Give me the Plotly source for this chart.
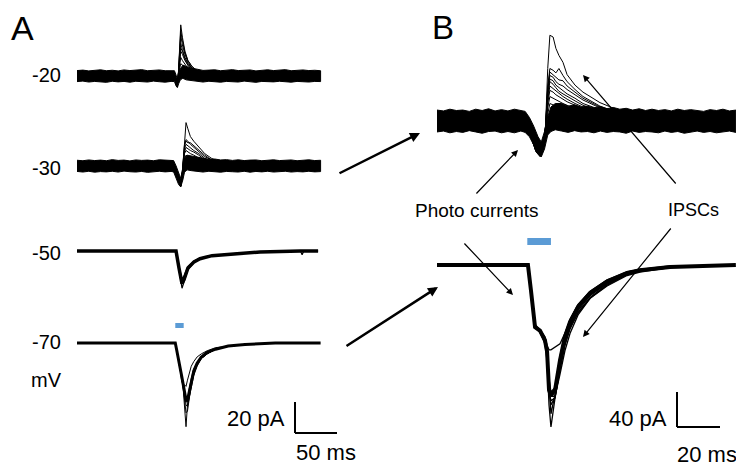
import plotly.graph_objects as go

W, H = 736, 464

# ---------------- Panel A data (time in ms, current in pA) ----------------
# -20 mV : noise band (upper / lower edge) + individual sweeps
A20_BAND_T = [0, 7, 14, 21, 28, 35, 42, 49, 56, 63, 70, 77, 84, 91, 98, 105, 112,
              116, 118, 119.5, 121, 123, 126, 130, 136,
              143, 150, 157, 164, 171, 178, 185, 192, 199, 206, 213, 220, 227, 234, 241, 248, 255, 262, 269, 276, 283, 290]
A20_BAND_UP = [3.5, 3.8, 3.3, 3.6, 4.0, 3.4, 3.7, 3.3, 3.9, 3.5, 3.6, 4.1, 3.4, 3.6, 3.9, 3.4, 3.7,
               3.4, 0.5, -2.5, 1.0, 4.5, 7.0, 6.0, 5.0,
               4.4, 3.6, 3.8, 4.0, 3.4, 3.7, 4.1, 3.5, 3.7, 3.9, 3.3, 3.6, 4.0, 3.5, 3.8, 4.1, 3.4, 3.6, 3.9, 3.5, 3.7, 3.4]
A20_BAND_LO = [-3.6, -3.3, -3.9, -3.5, -3.7, -4.1, -3.4, -3.8, -3.5, -4.0, -3.4, -3.7, -3.9, -3.3, -3.7, -4.0, -3.5,
               -3.6, -6.5, -7.5, -5.0, -2.5, -1.5, -2.5, -3.0,
               -3.5, -3.9, -3.4, -3.7, -4.0, -3.5, -3.6, -3.9, -3.3, -3.7, -4.1, -3.5, -3.6, -3.8, -3.4, -3.7, -4.0, -3.5, -3.7, -3.9, -3.5, -3.6]
A20_SWEEP_T = [116, 118, 119, 120.5, 122, 123.5, 125.5, 128.5, 132, 137, 144, 153, 168]
A20_SWEEPS = [
    [0, -5, -7, -1, 22, 33, 25, 16, 10, 6, 3, 1, 0],
    [0, -4, -6, 0, 20, 29, 23, 15, 10, 6, 3, 1, 0],
    [0, -4, -6, 0, 18, 26, 20, 14, 9, 5, 3, 1, 0],
    [0, -5, -6, -1, 14, 21, 17, 12, 8, 5, 2, 1, 0],
    [0, -4, -7, 0, 12, 18, 16, 11, 7, 4, 2, 1, 0],
    [0, -4, -7, 0, 10, 16, 14, 10, 7, 4, 2, 1, 0],
    [0, -4, -6, 1, 8, 12, 10, 8, 5, 3, 2, 0, 0],
    [0, -5, -7, 0, 5, 8, 7, 6, 4, 3, 1, 0, 0],
]

# -30 mV
A30_BAND_T = [0, 7, 14, 21, 28, 35, 42, 49, 56, 63, 70, 77, 84, 91, 98, 105, 112,
              115, 118, 121, 123.5, 126, 128, 131, 136,
              143, 150, 157, 164, 171, 178, 185, 192, 199, 206, 213, 220, 227, 234, 241, 248, 255, 262, 269, 276, 283, 290]
A30_BAND_UP = [3.7, 3.4, 3.9, 3.5, 3.8, 3.4, 4.1, 3.6, 3.8, 3.3, 3.9, 3.6, 3.8, 3.4, 4.0, 3.7, 3.5,
               3.5, 0.0, -5.0, -8.0, -1.0, 5.0, 7.0, 6.5,
               5.5, 4.8, 4.3, 4.5, 3.9, 4.1, 3.6, 4.0, 3.5, 3.8, 3.9, 3.4, 3.7, 4.0, 3.5, 3.8, 3.9, 3.4, 3.6, 4.0, 3.5, 3.7]
A30_BAND_LO = [-3.5, -3.9, -3.4, -4.0, -3.6, -3.8, -3.4, -3.9, -3.3, -3.7, -3.9, -3.5, -4.1, -3.6, -3.4, -3.8, -3.5,
               -3.8, -8.0, -12.0, -13.5, -9.0, -4.0, -2.5, -3.0,
               -3.6, -3.9, -3.4, -3.8, -4.0, -3.5, -3.7, -3.9, -3.4, -4.0, -3.5, -3.8, -3.4, -3.9, -3.6, -3.4, -3.9, -3.6, -3.8, -3.4, -3.8, -3.6]
A30_SWEEP_T = [115, 118, 121, 123.5, 125, 126.5, 128, 129.8, 132, 135, 139, 145, 152, 160, 172, 190]
A30_SWEEPS = [
    [0, -5, -10, -13, -8, 5, 20, 28, 24, 19, 16, 12, 8, 5, 2, 0],
    [0, -5, -10, -12, -7, 4, 14, 17, 16, 14, 12, 9, 6, 4, 2, 0],
    [0, -4, -10, -13, -7, 4, 13, 16, 15, 15, 13, 10, 7, 4, 2, 0],
    [0, -5, -9, -13, -8, 3, 11, 14, 13, 12, 10, 8, 5, 3, 1, 0],
    [0, -5, -9, -12, -7, 2, 9, 12, 11, 10, 9, 7, 4, 3, 1, 0],
    [0, -4, -10, -12, -7, 2, 8, 10, 9, 8, 7, 5, 3, 2, 1, 0],
    [0, -5, -9, -12, -6, 1, 5, 7, 6, 5, 4, 3, 2, 1, 0, 0],
    [0, -5, -10, -13, -7, 0, 3, 4, 3, 3, 2, 2, 1, 1, 0, 0],
]

# -50 mV
A50_T = [0, 117.9, 121.4, 125, 127.4, 132.1, 139.3, 146.4, 160.7, 182.1, 217.9, 266, 268, 270, 287]
A50_SWEEPS = [
    [0, 0, -11, -21, -18.5, -11, -7, -5, -3, -2, -0.6, 0, 0, 0, 0],
    [0, 0, -12, -24, -20, -12, -7.5, -5, -3, -2, -0.6, 0, -2.5, 0, 0],
    [0, 0, -10, -18, -16, -10, -6.5, -4.5, -3, -1.8, -0.5, 0, 0, 0, 0],
]

# -70 mV
A70_T = [0, 117, 118.5, 120.5, 122.5, 124.5, 126.5, 128, 129.8, 131.5, 133.5, 136, 139, 143, 148, 155, 165, 180, 200, 236, 290]
A70_MEAN = [0, 0, -4, -9, -15, -21, -27, -33, -37, -37, -32, -24, -18, -13, -9, -6, -4, -2, -1, 0, 0]
A70_SWEEP_T = [117, 118.5, 120.5, 122.5, 124.5, 126.5, 128, 129.8, 131.5, 133.5, 136, 139, 143, 148, 155, 165, 180, 200]
A70_SWEEPS = [
    [0, -4, -9, -16, -22, -30, -42, -54, -40, -30, -23, -17, -13, -9, -6, -4, -2, -1],
    [0, -4, -9, -16, -24, -27, -27, -28, -24, -19, -15, -12, -9, -7, -5, -3, -2, -1],
    [0, -4, -10, -16, -22, -29, -36, -45, -44, -36, -27, -20, -14, -10, -7, -4, -2, -1],
    [0, -4, -9, -15, -21, -26, -32, -40, -41, -35, -28, -21, -15, -10, -7, -4, -2, -1],
    [0, -4, -9, -15, -22, -28, -34, -38, -38, -34, -26, -19, -14, -10, -7, -4, -2, -1],
]

# ---------------- Panel B data (zoomed) ----------------
B30_BAND_T = [0, 3, 6, 9, 12, 15, 18, 21, 24, 27, 30, 33, 36, 39,
              41, 43, 45, 47, 48.5, 50, 51.5, 53, 55,
              58, 61, 64, 67, 70, 73, 76, 79, 82, 85, 88, 91, 94, 97, 100, 103, 106, 109, 112, 115, 118, 121, 124, 127, 130, 133, 136, 139]
B30_BAND_UP = [12.5, 11.5, 13.5, 12, 12.5, 11, 13.5, 12, 14, 11.5, 13, 11.5, 13.5, 12,
               11, 4, -6, -18, -24, -12, 5, 16, 20,
               20, 17, 18.5, 16, 17, 15, 16.5, 14, 15.5, 13.5, 14.5, 12.5, 14, 12, 13.5, 12, 13, 11.5, 13.5, 12, 13, 12, 11, 13, 12, 13.5, 11.5, 12.5]
B30_BAND_LO = [-12.5, -11.5, -13.5, -12, -13, -11, -12.5, -14, -12, -11.5, -13.5, -12, -13.5, -11.5,
               -13, -18, -28, -37, -41, -32, -16, -12, -10,
               -11.5, -13, -11, -12.5, -12, -13.5, -11.5, -13, -12, -12.5, -14, -11.5, -13, -12, -12.5, -13.5, -11.5, -13, -12, -14, -12.5, -11.5, -13, -12, -13.5, -12.5, -11.5, -13]
B30_SWEEP_T = [44, 46, 48, 49.5, 50.5, 51.5, 52.5, 54, 55.3, 56.7, 58.6, 60.5, 64.2, 67.9, 75.8, 83.7, 94.4, 108.4]
B30_SWEEPS = [
    [-20, -35, -40, -30, -5, 60, 98, 96, 83, 75, 67, 53, 41, 33, 21, 13, 6, 1],
    [-18, -33, -38, -28, -5, 40, 60, 58, 55, 60, 52, 45, 36, 28, 17, 10, 5, 1],
    [-19, -34, -39, -29, -6, 38, 56, 53, 50, 47, 46, 40, 33, 26, 16, 10, 4, 1],
    [-20, -34, -40, -30, -6, 35, 52, 50, 45, 42, 40, 36, 30, 24, 15, 9, 4, 1],
    [-18, -33, -39, -29, -7, 31, 48, 46, 41, 38, 35, 31, 26, 20, 13, 8, 3, 0],
    [-18, -32, -39, -28, -8, 28, 45, 42, 38, 34, 31, 28, 23, 18, 11, 7, 3, 0],
    [-19, -34, -40, -30, -8, 24, 40, 37, 34, 31, 28, 25, 20, 16, 10, 6, 3, 0],
    [-20, -35, -41, -31, -9, 20, 35, 33, 30, 28, 25, 22, 18, 14, 9, 5, 2, 0],
    [-19, -33, -38, -29, -10, 15, 28, 26, 24, 22, 20, 18, 14, 11, 7, 4, 2, 0],
    [-20, -34, -40, -30, -12, 8, 20, 18, 17, 16, 15, 13, 10, 8, 5, 3, 1, 0],
]

B70_T = [0, 42.3, 43.7, 45.6, 47.9, 50.2, 51.2, 52.1, 53.0, 54.9, 57.2, 59.5, 61.9, 65.6, 71.2, 79.1, 88.4, 94.4, 108.4, 122.3, 139]
B70_MEAN = [0, 0, -29, -71, -75, -86, -99, -143, -149, -143, -109, -82, -65, -48, -32, -19, -9, -6, -2.3, -1.1, 0]
B70_SWEEP_T = [42.3, 43.7, 45.6, 47.9, 50.2, 51.2, 52.1, 53.0, 54.9, 57.2, 59.5, 61.9, 65.6, 71.2, 79.1, 88.4, 94.4, 108.4]
B70_SWEEPS = [
    [0, -29, -71, -76, -90, -110, -160, -185, -150, -112, -85, -67, -49, -33, -20, -9, -6, -2],
    [0, -27, -68, -74, -82, -92, -97, -97, -94, -90, -78, -63, -46, -31, -18, -8, -5, -2],
    [0, -29, -71, -77, -88, -104, -140, -150, -150, -125, -98, -78, -57, -38, -23, -11, -7, -3],
    [0, -29, -72, -76, -86, -100, -135, -170, -148, -115, -88, -70, -52, -35, -21, -10, -6, -2],
    [0, -30, -72, -77, -87, -102, -145, -155, -152, -120, -92, -73, -54, -37, -22, -11, -7, -3],
    [0, -28, -70, -75, -85, -98, -130, -145, -140, -104, -79, -62, -45, -30, -17, -8, -5, -1],
    [0, -29, -71, -76, -88, -103, -142, -160, -151, -118, -90, -71, -55, -38, -24, -12, -8, -3],
]

HOLDING_LABELS = ["-20", "-30", "-50", "-70"]
UNIT_LABEL = "mV"
SCALE_A = ("20 pA", "50 ms", 20, 50)
SCALE_B = ("40 pA", "20 ms", 40, 20)
LIGHT_A = (117, 127)
LIGHT_B = (42, 53)

# ---------------- layout geometry (pixels) ----------------
A_X0, A_PXMS, A_PXPA = 77, 0.84, 1.55
B_X0, B_PXMS, B_PXPA = 437, 2.15, 0.875
BASE = {"A20": 76, "A30": 166, "A50": 251, "A70": 343, "B30": 121, "B70": 265}
BLUE = "#5B9BD5"
FONT = "Liberation Sans, Arial, sans-serif"


def px(x):
    return x / W


def py(y):
    return 1 - y / H


fig = go.Figure()

axis_cfg = [("A20", "x", A_PXPA), ("A30", "x", A_PXPA), ("A50", "x", A_PXPA),
            ("A70", "x", A_PXPA), ("B30", "x2", B_PXPA), ("B70", "x2", B_PXPA)]
YREF = {}
layout_axes = {}
for i, (key, xr, s) in enumerate(axis_cfg):
    n = "" if i == 0 else str(i + 1)
    YREF[key] = ("y" + n, xr)
    b = BASE[key]
    ax = dict(domain=[0, 1], range=[-(H - b) / s, b / s], visible=False,
              showgrid=False, zeroline=False, fixedrange=True, anchor="x")
    if i > 0:
        ax["overlaying"] = "y"
    layout_axes["yaxis" + n] = ax
layout_axes["xaxis"] = dict(domain=[0, 1], range=[-A_X0 / A_PXMS, (W - A_X0) / A_PXMS],
                            visible=False, showgrid=False, zeroline=False, fixedrange=True, anchor="y")
layout_axes["xaxis2"] = dict(domain=[0, 1], range=[-B_X0 / B_PXMS, (W - B_X0) / B_PXMS],
                             visible=False, showgrid=False, zeroline=False, fixedrange=True,
                             overlaying="x", anchor="y")


def add(key, t, v, width):
    yr, xr = YREF[key]
    fig.add_trace(go.Scatter(x=t, y=v, mode="lines", xaxis=xr, yaxis=yr,
                             line=dict(color="black", width=width), hoverinfo="skip",
                             showlegend=False))


def band(key, t, up, lo):
    yr, xr = YREF[key]
    fig.add_trace(go.Scatter(x=list(t) + list(t)[::-1], y=list(up) + list(lo)[::-1],
                             mode="lines", fill="toself", fillcolor="black",
                             xaxis=xr, yaxis=yr, line=dict(color="black", width=1),
                             hoverinfo="skip", showlegend=False))


band("A20", A20_BAND_T, A20_BAND_UP, A20_BAND_LO)
for s in A20_SWEEPS:
    add("A20", A20_SWEEP_T, s, 1)
band("A30", A30_BAND_T, A30_BAND_UP, A30_BAND_LO)
for s in A30_SWEEPS:
    add("A30", A30_SWEEP_T, s, 1)
for i, s in enumerate(A50_SWEEPS):
    add("A50", A50_T, s, 3.5 if i == 0 else 1.2)
add("A70", A70_T, A70_MEAN, 3)
for s in A70_SWEEPS:
    add("A70", A70_SWEEP_T, s, 1)
band("B30", B30_BAND_T, B30_BAND_UP, B30_BAND_LO)
for s in B30_SWEEPS:
    add("B30", B30_SWEEP_T, s, 1)
add("B70", B70_T, B70_MEAN, 4)
for s in B70_SWEEPS:
    add("B70", B70_SWEEP_T, s, 1.3)

shapes = []
ya70, _ = YREF["A70"]
ta = (295 - A_X0) / A_PXMS
ia = (BASE["A70"] - 433) / A_PXPA
shapes.append(dict(type="line", xref="x", yref=ya70, x0=ta, x1=ta, y0=ia, y1=ia + SCALE_A[2],
                   line=dict(color="black", width=2)))
shapes.append(dict(type="line", xref="x", yref=ya70, x0=ta, x1=ta + SCALE_A[3], y0=ia, y1=ia,
                   line=dict(color="black", width=2)))
yb70, _ = YREF["B70"]
tb = (677 - B_X0) / B_PXMS
ib = (BASE["B70"] - 427) / B_PXPA
shapes.append(dict(type="line", xref="x2", yref=yb70, x0=tb, x1=tb, y0=ib, y1=ib + SCALE_B[2],
                   line=dict(color="black", width=2)))
shapes.append(dict(type="line", xref="x2", yref=yb70, x0=tb, x1=tb + SCALE_B[3], y0=ib, y1=ib,
                   line=dict(color="black", width=2)))
shapes.append(dict(type="rect", xref="x", yref="paper", x0=LIGHT_A[0], x1=LIGHT_A[1],
                   y0=py(328), y1=py(323), fillcolor=BLUE, line=dict(width=0)))
shapes.append(dict(type="rect", xref="x2", yref="paper", x0=LIGHT_B[0], x1=LIGHT_B[1],
                   y0=py(245), y1=py(238), fillcolor=BLUE, line=dict(width=0)))

ann = []


def text(s, x, y, size, xanchor="left"):
    ann.append(dict(text=s, x=px(x), y=py(y), xref="paper", yref="paper", showarrow=False,
                    xanchor=xanchor, yanchor="middle", font=dict(family=FONT, size=size, color="black")))


text("A", 9, 28, 34)
text("B", 430, 27, 33)
for lab, yy in zip(HOLDING_LABELS, [75, 168, 253, 342]):
    text(lab, 30, yy, 20)
text(UNIT_LABEL, 29, 380, 20)
text(SCALE_A[0], 287, 418, 22, "right")
text(SCALE_A[1], 294, 452, 22)
text(SCALE_B[0], 669, 418, 22, "right")
text(SCALE_B[1], 675, 454, 22)
text("Photo currents", 413, 210, 19)
text("IPSCs", 666, 210, 18)


def arrow(hx, hy, tx, ty, w):
    ann.append(dict(x=px(hx), y=py(hy), xref="paper", yref="paper", ax=tx - hx, ay=ty - hy,
                    axref="pixel", ayref="pixel", showarrow=True, arrowhead=2,
                    arrowsize=1.1 if w < 2 else 0.8, arrowwidth=w, arrowcolor="black", text=""))


arrow(420, 133, 338, 174, 2.5)
arrow(438, 287, 345, 347, 2.5)
arrow(518, 150, 475, 195, 1.2)
arrow(513, 295, 463, 242, 1.2)
arrow(583, 75, 677, 185, 1.2)
arrow(583, 337, 672, 227, 1.2)

fig.update_layout(width=W, height=H, autosize=False, margin=dict(l=0, r=0, t=0, b=0),
                  paper_bgcolor="white", plot_bgcolor="rgba(0,0,0,0)", showlegend=False,
                  shapes=shapes, annotations=ann, **layout_axes)
fig.write_html("out.html", config={"displayModeBar": False},
               post_script="document.body.style.margin='0px';")
